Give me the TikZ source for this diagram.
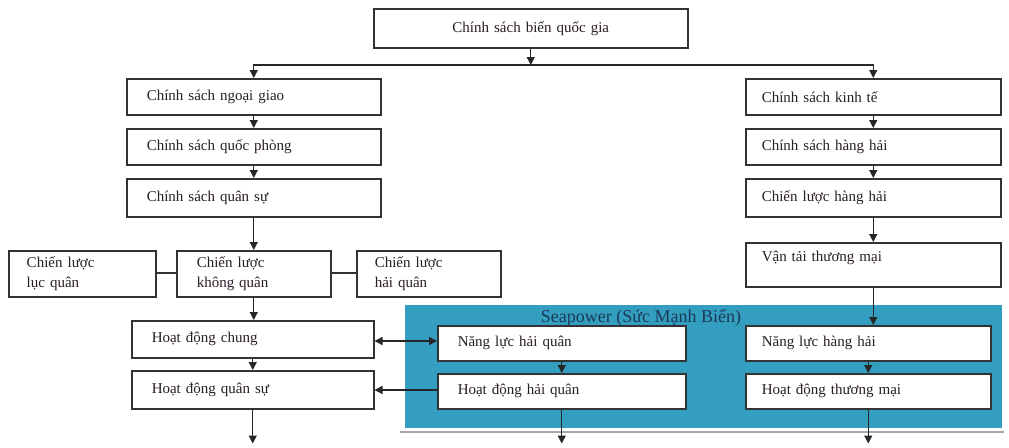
\documentclass[tikz,border=0pt]{standalone}
\usepackage{fontspec}
\setmainfont{Liberation Serif}
\usetikzlibrary{arrows.meta,calc}
\definecolor{panelblue}{RGB}{52,158,192}
\definecolor{titleblue}{RGB}{28,58,88}
\definecolor{ink}{RGB}{40,30,40}
\tikzset{
  box/.style={draw=black!80, line width=1.5pt, fill=white, anchor=north west,
    inner ysep=0pt, align=left, text=ink,
    font=\fontsize{15}{20}\selectfont},
  conn/.style={line width=1.3pt, draw=black!85, -{Triangle[length=8pt,width=8pt]}},
  link/.style={line width=1.3pt, draw=black!80},
  dconn/.style={line width=1.3pt, draw=black!85, {Triangle[length=8pt,width=8pt]}-{Triangle[length=8pt,width=8pt]}}
}
\newcommand{\mybox}[7]{% name, x, y, w, h, pad, text
  \node[box, minimum width=#4pt, minimum height=#5pt, inner xsep=#6pt, text width=#4pt-#6pt-#6pt] (#1) at (#2,#3)
    {#7};}
\begin{document}
\begin{tikzpicture}[x=1pt,y=-1pt]
\useasboundingbox (0,0) rectangle (1009,447);
% panel
\fill[panelblue] (405,305) rectangle (1002,428);
\draw[black!35, line width=2pt] (400,432) -- (1004,432);
\node[font=\fontsize{18}{20}\selectfont, text=titleblue] (title) at (641,318) {Seapower (Sức Mạnh Biển)};
% top
\node[box, minimum width=314pt, minimum height=39pt, inner xsep=0pt, align=center, text width=314pt] (top) at (373,8) {Chính sách biển quốc gia};
% left column
\mybox{ng}{126}{78}{254}{36}{20}{Chính sách ngoại giao}
\mybox{qp}{126}{128}{254}{36}{20}{Chính sách quốc phòng}
\mybox{qs}{126}{178}{254}{38}{20}{Chính sách quân sự}
% right column
\mybox{kt}{745}{78}{255}{36}{16}{Chính sách kinh tế}
\mybox{hh}{745}{128}{255}{36}{16}{Chính sách hàng hải}
\mybox{cl}{745}{178}{255}{38}{16}{Chiến lược hàng hải}
\node[box, minimum width=255pt, minimum height=44pt, inner xsep=16pt, text width=223pt, text depth=16pt] (vt) at (745,242) {Vận tải thương mại};
% strategies
\mybox{lq}{8}{250}{147}{46}{18}{Chiến lược\\lục quân}
\mybox{kq}{176}{250}{154}{46}{20}{Chiến lược\\không quân}
\mybox{hq}{356}{250}{144}{46}{18}{Chiến lược\\hải quân}
% operations
\mybox{hdc}{131}{320}{242}{37}{20}{Hoạt động chung}
\mybox{hdqs}{131}{370}{242}{38}{20}{Hoạt động quân sự}
\mybox{nlhq}{437}{325}{248}{35}{20}{Năng lực hải quân}
\mybox{hdhq}{437}{373}{248}{35}{20}{Hoạt động hải quân}
\mybox{nlhh}{745}{325}{245}{35}{16}{Năng lực hàng hải}
\mybox{hdtm}{745}{373}{245}{35}{16}{Hoạt động thương mại}
% free ends
\coordinate (b1) at ($(hdqs.south)+(0,34)$);
\coordinate (b2) at ($(hdhq.south)+(0,34)$);
\coordinate (b3) at ($(hdtm.south)+(0,34)$);
\coordinate (split) at (top.south |- 0,65);
% connectors
\draw[conn] (top.south) -- (split);
\draw[conn] (split) -| (ng.north);
\draw[conn] (split) -| (kt.north);
\draw[conn] (ng.south) -- (qp.north);
\draw[conn] (qp.south) -- (qs.north);
\draw[conn] (qs.south) -- (kq.north);
\draw[conn] (kt.south) -- (hh.north);
\draw[conn] (hh.south) -- (cl.north);
\draw[conn] (cl.south) -- (vt.north);
\draw[link] (lq.east |- 0,273) -- (kq.west |- 0,273);
\draw[link] (kq.east |- 0,273) -- (hq.west |- 0,273);
\draw[conn] (kq.south) -- (kq.south |- hdc.north);
\draw[conn] (hdc.south) -- (hdc.south |- hdqs.north);
\draw[conn] (hdqs.south) -- (b1);
\draw[conn] (vt.south) -- (vt.south |- nlhh.north);
\draw[conn] (nlhh.south) -- (nlhh.south |- hdtm.north);
\draw[conn] (nlhq.south) -- (hdhq.north);
\draw[dconn] (hdc.east |- 0,341) -- (nlhq.west |- 0,341);
\draw[conn] (hdhq.west |- 0,390) -- (hdqs.east |- 0,390);
\draw[conn] (hdhq.south) -- (b2);
\draw[conn] (hdtm.south) -- (hdtm.south |- b3);
\end{tikzpicture}
\end{document}
